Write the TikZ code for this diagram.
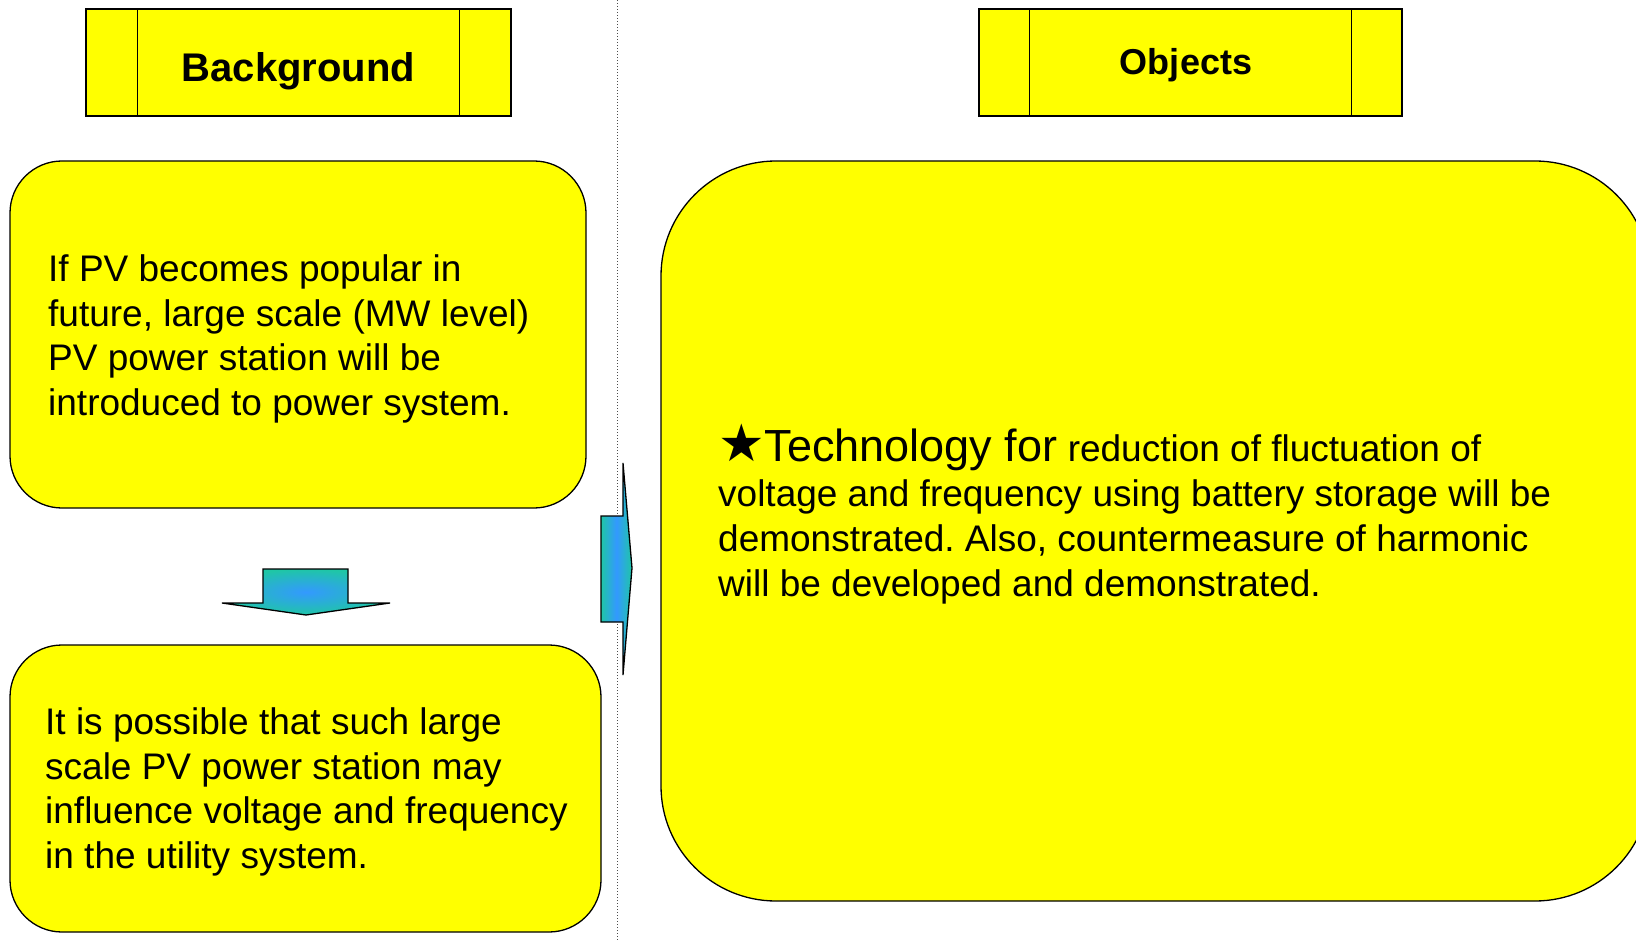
\documentclass[tikz,border=0pt]{standalone}
\usepackage{fontspec}
\setmainfont{Liberation Sans}
\newfontfamily\symfont{DejaVu Sans}
\definecolor{yel}{HTML}{FFFF00}
\definecolor{teal1}{HTML}{1FC6A6}
\definecolor{blue1}{HTML}{3399FF}
\frenchspacing
\begin{document}
\begin{tikzpicture}[x=1pt,y=-1pt,
  hdr/.style={draw=black, line width=1.3pt, fill=yel, minimum width=425pt, minimum height=107pt, inner sep=0pt},
  hdrtext/.style={inner sep=0pt, anchor=base},
  rbox/.style={draw=black, line width=1.3pt, fill=yel, inner sep=0pt},
  txt/.style={align=left, anchor=west, inner sep=0pt, font=\fontsize{37}{44.8}\selectfont},
  blockarrow/.style={draw=black, line width=1.3pt}]
\useasboundingbox (0,0) rectangle (1636,941);
\clip (0,0) rectangle (1636,941);
% dotted divider
\coordinate (dtop) at (617,0);
\coordinate (dbot) at (617,941);
\draw[dotted, line width=1pt, black!70] (dtop) -- (dbot);
% headers
\node[hdr] (bg) at (298.5,62.5) {};
\node[hdrtext, font=\bfseries\fontsize{40}{40}\selectfont] (bgt) at (298.5,82) {Background};
\draw[line width=1.3pt] ([xshift=52pt]bg.north west) -- ([xshift=52pt]bg.south west);
\draw[line width=1.3pt] ([xshift=-52pt]bg.north east) -- ([xshift=-52pt]bg.south east);
\node[hdr, minimum width=423pt] (ob) at (1190.5,62.5) {};
\node[hdrtext, font=\bfseries\fontsize{36}{36}\selectfont] (obt) at (1186,75) {Objects};
\draw[line width=1.3pt] ([xshift=51pt]ob.north west) -- ([xshift=51pt]ob.south west);
\draw[line width=1.3pt] ([xshift=-51pt]ob.north east) -- ([xshift=-51pt]ob.south east);
% boxes
\node[rbox, rounded corners=52pt, minimum width=576pt, minimum height=347pt] (b1) at (298,334.5) {};
\node[txt] (t1) at (48,339) {If PV becomes popular in\\future, large scale (MW level)\\PV power station will be\\introduced to power system.};
\node[rbox, rounded corners=52pt, minimum width=591pt, minimum height=287pt] (b2) at (305.5,788.5) {};
\node[txt] (t2) at (45,792) {It is possible that such large\\scale PV power station may\\influence voltage and frequency\\in the utility system.};
\node[rbox, rounded corners=115pt, minimum width=989pt, minimum height=740pt] (b3) at (1155.5,531) {};
\node[txt] (t3) at (718,514) {{\symfont\fontsize{52}{45}\selectfont ★}{\fontsize{45}{45}\selectfont Technology for} reduction of fluctuation of\\voltage and frequency using battery storage will be\\demonstrated. Also, countermeasure of harmonic\\will be developed and demonstrated.};
% down arrow
\path[blockarrow, inner color=blue1, outer color=teal1]
  (263,569) -- (348,569) -- (348,603) -- (390,603) -- (306,615) -- (222,603) -- (263,603) -- cycle;
% right arrow
\path[blockarrow, left color=teal1, right color=teal1, middle color=blue1]
  (601,516) -- (623,516) -- (623,463) -- (632,568) -- (623,675) -- (623,622) -- (601,622) -- cycle;
\end{tikzpicture}
\end{document}
